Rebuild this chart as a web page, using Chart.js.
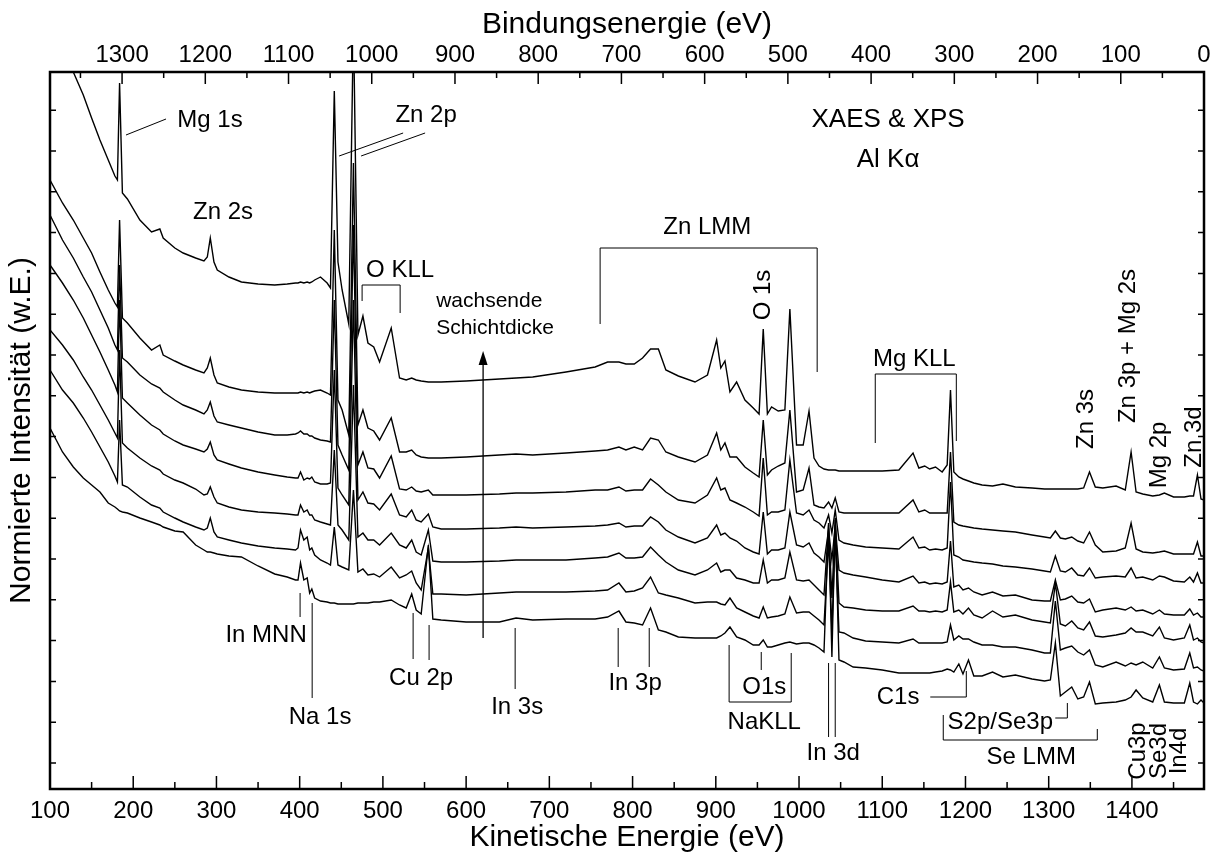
<!DOCTYPE html>
<html>
<head>
<meta charset="utf-8">
<script src="https://cdn.jsdelivr.net/npm/chart.js@4.4.0/dist/chart.umd.min.js"></script>
<style>
html, body { margin: 0; padding: 0; background: #fff; }
</style>
</head>
<body>
<canvas id="xps" width="1215" height="854"></canvas>
<script>
///////////////////////////// Daten /////////////////////////////////////////
// kinetische Energie (eV), gemeinsame Stützstellen fuer alle Spektren
const energy = [100,115,128,140,150,160,170,178,181,183.6,
  187,193,208,222,232,236,250,260,275,285,
  289,292.6,297,301,315,330,350,370,385,395,
  398,401,405,409,412,414.6,418,425,433,437,
  441.6,446,451,459,464.6,470,476,482,489,496,
  510,520,528,534.6,540,546,554.6,560,570,600,
  640,660,680,720,755,770,783.6,792,802,812,
  821.6,831,840,855,875,890,901,906,911,917,
  925,935,945,952,957,962,967,975,983,989,
  997,1005,1012,1018,1024,1030,1035.5,1039.5,1043.5,1048,
  1054,1065,1080,1100,1120,1137,1144,1151,1157,1164,
  1172,1178,1182,1186,1192,1197,1203.6,1210,1220,1232.5,
  1245,1260,1280,1295,1302,1308,1314,1320,1327.7,1335,
  1342,1349,1356,1365,1381,1392,1399,1405,1413,1425,
  1433,1439,1450,1463,1469.5,1474,1478.7,1483,1486.6]

// normierte Intensitaet (w.E.), oben = dickste Schicht
const trace1 = [78.5,75.5,72.8,70.5,68.2,66.0,64.0,62.4,62.0,71.7,
  60.7,60.1,58.0,56.8,57.1,56.2,55.2,54.7,54.2,53.9,
  54.3,56.2,53.8,53.0,52.3,51.8,51.6,51.5,51.6,51.7,
  51.7,51.8,51.7,51.8,51.7,51.8,52.0,52.3,51.7,51.2,
  70.9,53.8,51.0,47.6,78.0,46.5,48.4,45.7,45.3,43.8,
  47.2,42.2,42.0,42.2,42.0,41.9,41.8,41.8,41.8,41.9,
  42.1,42.2,42.3,42.8,43.3,43.8,43.8,43.6,43.6,44.2,
  45.1,45.1,43.0,42.4,41.8,42.5,46.0,43.2,43.9,40.8,
  41.8,40.0,39.2,38.6,47.1,38.6,39.3,38.9,39.0,49.1,
  35.5,35.5,38.9,34.2,33.4,33.1,33.0,33.0,33.0,32.9,
  32.9,32.9,32.9,32.9,33.0,34.7,33.2,33.4,33.1,33.3,
  32.8,33.5,41.0,32.8,32.3,32.1,31.9,31.7,31.5,31.4,
  31.6,31.3,31.2,31.1,31.1,31.1,31.1,31.1,31.1,31.1,
  31.2,32.8,31.3,31.2,31.4,31.0,34.8,30.8,30.6,30.4,
  30.5,30.7,30.3,30.3,30.4,30.4,32.5,30.1,30.0]
const trace2 = [62.0,59.7,58.0,56.2,54.7,52.8,51.0,49.7,49.3,58.0,
  48.2,47.7,46.2,45.0,45.5,44.5,43.9,43.5,43.0,42.7,
  43.2,44.2,42.5,41.7,41.3,41.0,40.8,40.7,40.7,40.7,
  40.7,40.8,40.7,40.8,40.7,40.8,40.9,41.0,40.7,40.5,
  57.0,40.0,39.0,36.5,63.7,37.5,39.0,37.2,36.9,36.0,
  38.2,34.8,34.8,35.0,34.5,34.3,34.2,34.2,34.2,34.3,
  34.5,34.6,34.5,34.7,34.9,35.0,35.3,35.0,35.3,35.0,
  36.2,36.0,34.8,34.3,33.8,34.5,36.7,35.0,35.7,34.3,
  34.3,33.3,32.7,32.3,38.0,32.5,33.0,33.4,33.7,39.0,
  30.8,31.0,33.2,29.5,29.3,29.2,29.8,29.2,30.2,28.8,
  28.7,28.7,28.7,28.7,28.7,30.0,28.8,29.0,28.7,28.7,
  28.7,28.7,34.8,27.8,27.5,27.4,27.3,27.2,27.1,27.0,
  26.9,26.8,26.5,26.3,26.2,26.9,26.2,26.1,26.3,25.9,
  25.7,26.8,25.5,24.8,24.9,25.2,27.7,25.1,24.8,24.7,
  24.8,24.9,24.6,24.6,24.6,24.6,25.8,24.4,24.4]
const trace3 = [58.5,56.0,54.2,52.3,50.8,49.0,47.2,45.5,45.0,53.5,
  44.2,43.8,42.5,41.6,41.2,40.8,40.0,39.5,39.0,38.6,
  39.0,39.8,38.4,37.8,37.5,37.2,36.8,36.5,36.5,36.6,
  36.7,36.9,36.6,36.6,36.4,36.4,36.2,36.0,35.9,35.8,
  50.0,35.5,34.5,33.0,57.5,33.5,34.8,33.2,33.1,32.2,
  34.4,31.1,31.0,31.3,30.9,30.8,31.0,30.5,30.5,30.5,
  30.6,30.7,30.7,30.8,31.0,31.0,31.3,30.9,31.0,31.0,
  32.1,31.5,30.8,30.0,29.7,30.5,32.2,31.0,31.2,30.0,
  29.7,29.3,28.8,28.4,34.2,28.5,28.8,28.8,29.0,34.0,
  28.7,28.5,29.0,28.0,27.7,27.2,28.5,26.7,29.0,26.0,
  25.7,25.5,25.3,25.2,25.1,26.3,25.2,25.3,25.0,25.1,
  25.0,25.2,31.8,24.5,24.3,24.0,23.9,23.8,23.7,23.6,
  23.4,23.3,23.1,22.9,22.8,24.4,22.9,22.8,23.2,22.5,
  22.4,23.2,22.2,22.3,22.4,22.3,23.2,22.2,22.3,22.0,
  22.4,22.3,21.9,21.8,22.3,21.8,22.7,21.7,21.7]
const trace4 = [53.5,51.7,50.0,48.2,46.5,44.8,43.0,41.5,40.8,50.0,
  40.2,39.7,38.5,37.5,37.0,36.6,35.9,35.5,35.1,34.8,
  35.1,35.8,34.5,34.0,33.6,33.2,32.8,32.5,32.3,32.2,
  32.2,32.8,32.0,32.2,32.1,32.3,31.8,31.6,31.6,31.7,
  43.0,31.2,30.5,29.5,50.0,30.0,30.8,29.7,29.6,29.0,
  30.6,28.5,28.3,29.0,28.0,27.8,28.6,27.3,27.1,27.1,
  27.2,27.3,27.2,27.3,27.4,27.5,27.7,27.3,27.4,27.4,
  28.3,27.8,27.0,26.3,25.7,26.2,27.5,26.5,26.7,26.2,
  25.9,25.2,24.8,24.6,28.8,24.6,25.0,25.0,25.2,28.8,
  25.5,25.3,25.7,24.7,24.3,23.8,27.0,24.0,27.5,23.0,
  22.7,22.5,22.3,22.0,21.8,22.4,21.7,21.8,21.6,21.7,
  21.6,21.8,25.9,21.3,21.5,21.0,21.2,20.8,20.5,20.8,
  20.4,20.5,20.0,19.9,19.9,22.0,20.0,20.1,20.4,19.8,
  19.7,20.1,18.8,19.0,19.2,19.0,19.3,18.9,19.0,18.6,
  19.0,18.6,18.5,18.5,19.1,18.5,18.7,18.3,18.3]
const trace5 = [47.0,45.5,44.0,42.3,41.0,39.5,38.0,36.7,36.2,45.0,
  35.7,35.2,34.2,33.4,33.0,32.6,32.0,31.7,31.1,30.5,
  30.6,31.3,30.3,29.7,29.3,29.0,28.8,28.7,28.6,28.5,
  28.5,29.5,28.8,29.0,28.5,28.5,28.0,27.8,27.6,27.5,
  35.0,27.5,27.0,26.0,41.5,26.3,26.7,26.0,26.0,25.5,
  26.7,25.5,25.2,26.0,24.8,24.5,27.0,23.9,23.8,23.8,
  23.9,24.0,24.0,24.0,24.2,24.3,24.7,24.2,24.2,24.3,
  25.3,24.5,23.8,23.0,22.5,23.0,23.7,22.8,23.0,23.0,
  22.2,22.0,21.7,21.7,24.0,21.7,22.0,22.0,22.2,24.8,
  22.0,21.9,22.0,21.5,21.0,20.5,27.5,20.2,28.0,19.7,
  19.3,19.2,19.0,18.9,18.9,19.4,18.9,18.9,18.8,18.9,
  18.8,19.0,21.8,18.8,19.0,18.6,19.2,18.5,18.2,18.9,
  18.3,18.5,18.0,17.8,17.7,21.7,17.6,17.4,17.9,17.2,
  17.0,17.8,16.4,16.3,16.5,16.7,17.2,16.8,16.8,16.4,
  17.3,16.2,16.0,16.2,17.5,16.0,16.2,15.8,15.7]
const trace6 = [43.0,41.0,39.7,38.2,36.8,35.3,33.8,32.4,31.8,38.0,
  31.5,31.3,30.3,29.5,29.2,28.8,28.2,27.8,27.3,27.0,
  27.2,28.2,26.8,26.3,26.0,25.7,25.4,25.2,25.1,25.0,
  25.2,27.0,26.0,26.3,25.0,25.2,24.5,24.0,23.7,23.5,
  27.3,23.5,23.3,23.0,31.0,22.8,23.1,22.5,22.6,22.3,
  23.3,22.2,22.5,22.9,21.7,21.0,25.2,20.6,20.6,20.5,
  20.7,20.8,20.8,20.8,20.9,21.0,21.7,20.8,20.9,21.2,
  22.3,20.7,20.5,20.2,19.7,19.8,19.8,19.6,19.5,20.2,
  19.2,18.8,18.4,18.2,19.3,18.2,18.3,18.4,18.6,20.3,
  18.7,18.8,18.8,18.4,18.0,17.5,26.0,17.0,26.5,16.8,
  16.7,16.2,15.9,15.8,15.7,16.1,15.7,15.7,15.7,15.7,
  15.7,15.8,17.5,16.0,16.4,16.1,16.1,15.8,15.5,15.5,
  15.3,15.3,15.0,14.7,14.7,19.9,15.0,15.2,15.4,14.8,
  14.5,15.0,13.5,13.3,13.8,13.4,13.7,13.5,13.8,13.2,
  14.3,13.2,13.0,13.1,14.7,13.2,13.3,13.0,12.9]
// Substrat (CIGS) ohne Schicht
const trace7 = [37.2,34.8,33.3,32.2,31.5,30.8,29.7,29.3,29.1,28.9,
  28.8,28.7,28.2,27.8,27.5,27.3,26.9,26.8,25.5,25.0,
  24.8,24.8,24.7,24.6,24.4,24.3,23.4,22.6,22.3,22.0,
  22.0,23.7,22.0,22.2,20.7,21.1,20.2,19.9,19.8,19.7,
  19.7,19.6,19.6,19.6,19.6,19.7,19.7,19.7,19.8,19.8,
  20.0,19.5,19.2,20.6,19.0,18.6,25.5,18.1,18.0,17.8,
  17.8,18.2,18.0,18.1,18.1,18.3,18.9,17.8,17.7,17.5,
  19.2,17.0,16.8,16.3,16.2,16.2,16.2,16.4,16.7,17.3,
  16.3,16.0,15.5,15.5,16.0,15.3,15.3,15.5,15.7,15.8,
  15.6,15.7,15.7,15.5,15.2,14.8,27.7,14.3,28.2,14.0,
  13.8,13.3,13.2,13.0,12.7,12.7,12.7,12.7,12.7,12.8,
  12.9,13.1,13.0,12.8,13.6,12.6,14.0,12.4,12.4,12.8,
  12.3,12.5,12.1,11.9,12.0,15.7,10.4,10.8,11.3,10.1,
  10.3,11.8,9.6,9.7,9.8,10.0,10.3,11.0,10.2,9.8,
  11.5,9.8,9.7,9.7,11.7,9.8,9.6,10.0,9.7]

const traces = [trace1, trace2, trace3, trace4, trace5, trace6, trace7]

// Al K-alpha: Bindungsenergie = 1486.6 - kinetische Energie
const photonEnergy = 1486.6
const keMin = 100

////////////////////////// Beschriftungen //////////////////////////////////
const FONT = '"Liberation Sans", Arial, Helvetica, sans-serif'

const labels = [
  {t: 'Mg 1s', x: 292.3, y: 68.0},
  {t: 'Zn 2s', x: 307.9, y: 58.8},
  {t: 'Zn 2p', x: 551.9, y: 68.5},
  {t: 'O KLL', x: 520.7, y: 53.0},
  {t: 'Zn LMM', x: 889.7, y: 57.3},
  {t: 'Mg KLL', x: 1138.5, y: 44.1},
  {t: 'In MNN', x: 359.6, y: 16.5},
  {t: 'Na 1s', x: 424.5, y: 8.3},
  {t: 'Cu 2p', x: 545.9, y: 12.2},
  {t: 'In 3s', x: 661.3, y: 9.3},
  {t: 'In 3p', x: 803, y: 11.7},
  {t: 'O1s', x: 958.2, y: 11.3},
  {t: 'NaKLL', x: 958.2, y: 7.8},
  {t: 'In 3d', x: 1041, y: 4.7},
  {t: 'C1s', x: 1119, y: 10.3},
  {t: 'S2p/Se3p', x: 1241.8, y: 7.8},
  {t: 'Se LMM', x: 1279, y: 4.3}
]
const leftLabels = [
  {t: 'wachsende', x: 564, y: 49.9},
  {t: 'Schichtdicke', x: 564, y: 47.2}
]
const upLabels = [
  {t: 'O 1s', x: 957, y: 50.5},
  {t: 'Zn 3s', x: 1345, y: 38.1},
  {t: 'Zn 3p + Mg 2s', x: 1395.7, y: 45.4},
  {t: 'Mg 2p', x: 1433, y: 34.5},
  {t: 'Zn 3d', x: 1475, y: 36.3},
  {t: 'Cu3p', x: 1407.7, y: 4.9},
  {t: 'Se3d', x: 1433, y: 4.9},
  {t: 'In4d', x: 1457, y: 4.9}
]
const leaders = [
  [[191.3, 66.5], [239.4, 68.1]],
  [[447.4, 64.4], [524.3, 66.7]],
  [[473.8, 64.4], [550.7, 66.7]],
  [[475, 49.9], [475, 51.5], [520.7, 51.5], [520.7, 48.7]],
  [[761, 47.6], [761, 55.2], [1021.8, 55.2], [1021.8, 42.8]],
  [[1091.6, 35.7], [1091.6, 42.6], [1189, 42.6], [1189, 35.9]],
  [[400.5, 20.7], [400.5, 18.3]],
  [[415, 19.7], [415, 10.2]],
  [[536.3, 18.7], [536.3, 14.1]],
  [[555.5, 17.5], [555.5, 14.0]],
  [[658.9, 17.2], [658.9, 11.1]],
  [[782.7, 17.2], [782.7, 13.3]],
  [[820, 17.2], [820, 13.3]],
  [[954.6, 14.8], [954.6, 13.0]],
  [[916, 15.5], [916, 9.8], [990.6, 9.8], [990.6, 14.7]],
  [[1035.5, 13.7], [1035.5, 6.3]],
  [[1043.5, 13.7], [1043.5, 6.3]],
  [[1157.7, 10.3], [1201, 10.3], [1201, 12.9]],
  [[1307.9, 8.2], [1322.4, 8.2], [1322.4, 9.7]],
  [[1173.3, 8.5], [1173.3, 6.0], [1358.4, 6.0], [1358.4, 7.1]]
]
const arrow = {x: 620.4, from: 16.2, to: 44.9}

// y-Striche ohne Zahlen
const yTickStart = 3.7
const yTickStep = 4.08
const yTickCount = 17

////////////////////// Rahmen, Striche, Texte //////////////////////////////
const marks = {
  id: 'marks',
  afterDraw(chart) {
    const {ctx, chartArea: a, scales} = chart
    const xs = scales.x, xt = scales.xb, ys = scales.y
    const X = v => xs.getPixelForValue(v)
    const Y = v => ys.getPixelForValue(v)
    ctx.save()
    ctx.strokeStyle = '#000'
    ctx.fillStyle = '#000'

    ctx.lineWidth = 1.5
    ctx.beginPath()
    for (let v = 100; v <= 1450; v += 50) {
      const len = v % 100 === 0 ? 13 : 7
      ctx.moveTo(X(v), a.bottom); ctx.lineTo(X(v), a.bottom - len)
    }
    for (let v = 0; v <= 1350; v += 50) {
      const len = v % 100 === 0 ? 12 : 6
      const p = xt.getPixelForValue(v)
      ctx.moveTo(p, a.top); ctx.lineTo(p, a.top + len)
    }
    for (let k = 0; k < yTickCount; k++) {
      const p = Y(yTickStart + k * yTickStep)
      ctx.moveTo(a.left, p); ctx.lineTo(a.left + 6, p)
      ctx.moveTo(a.right, p); ctx.lineTo(a.right - 6, p)
    }
    ctx.stroke()

    ctx.lineWidth = 2.5
    ctx.strokeRect(a.left, a.top, a.right - a.left, a.bottom - a.top)

    // Hilfslinien
    ctx.lineWidth = 1
    leaders.forEach(pts => {
      ctx.beginPath()
      pts.forEach((p, i) => i ? ctx.lineTo(X(p[0]), Y(p[1])) : ctx.moveTo(X(p[0]), Y(p[1])))
      ctx.stroke()
    })
    // Pfeil "wachsende Schichtdicke"
    const ax = X(arrow.x), ay1 = Y(arrow.from), ay2 = Y(arrow.to)
    ctx.lineWidth = 1.3
    ctx.beginPath(); ctx.moveTo(ax, ay1); ctx.lineTo(ax, ay2 + 10); ctx.stroke()
    ctx.beginPath(); ctx.moveTo(ax, ay2); ctx.lineTo(ax - 4.5, ay2 + 14); ctx.lineTo(ax + 4.5, ay2 + 14); ctx.closePath(); ctx.fill()

    ctx.textBaseline = 'middle'
    ctx.font = '24px ' + FONT
    ctx.textAlign = 'center'
    labels.forEach(l => ctx.fillText(l.t, X(l.x), Y(l.y)))
    upLabels.forEach(l => {
      ctx.save()
      ctx.translate(X(l.x), Y(l.y))
      ctx.rotate(-Math.PI / 2)
      ctx.fillText(l.t, 0, 0)
      ctx.restore()
    })
    ctx.font = '21px ' + FONT
    ctx.textAlign = 'left'
    leftLabels.forEach(l => ctx.fillText(l.t, X(l.x), Y(l.y)))

    ctx.font = '26px ' + FONT
    ctx.textAlign = 'center'
    ctx.fillText('XAES & XPS', X(1107), Y(68.0))
    ctx.fillText('Al K\u03b1', X(1107), Y(64.0))
    ctx.restore()
  }
}

/////////////////////////////// Grafik /////////////////////////////////////
const axisFont = {family: FONT, size: 24}
const titleFont = {family: FONT, size: 30}

new Chart(document.getElementById('xps'), {
  type: 'line',
  data: {
    datasets: traces.map(t => ({
      data: energy.map((e, i) => ({x: e, y: t[i]})),
      borderColor: '#000',
      borderWidth: 1.4,
      pointRadius: 0,
      fill: false,
      tension: 0
    }))
  },
  options: {
    responsive: false,
    animation: false,
    events: [],
    plugins: {legend: {display: false}, tooltip: {enabled: false}},
    scales: {
      x: {
        type: 'linear', position: 'bottom', min: keMin, max: photonEnergy,
        afterFit: s => { s.height = 65 },
        grid: {display: false, drawTicks: false}, border: {display: false},
        ticks: {stepSize: 100, includeBounds: false, padding: 7.6, color: '#000', font: axisFont,
          maxRotation: 0, minRotation: 0, autoSkip: false, callback: v => String(v)},
        title: {display: true, text: 'Kinetische Energie (eV)', color: '#000', font: titleFont, padding: {top: 0, bottom: -2}}
      },
      xb: {
        type: 'linear', position: 'top', min: 0, max: photonEnergy - keMin, reverse: true,
        afterFit: s => { s.height = 72 },
        grid: {display: false, drawTicks: false}, border: {display: false},
        ticks: {stepSize: 100, includeBounds: false, padding: 2.6, color: '#000', font: axisFont,
          maxRotation: 0, minRotation: 0, autoSkip: false, callback: v => String(v)},
        title: {display: true, text: 'Bindungsenergie (eV)', color: '#000', font: titleFont, padding: {top: 7, bottom: 0}}
      },
      y: {
        type: 'linear', position: 'left', min: 1.1, max: 72.8,
        afterFit: s => { s.width = 50 },
        grid: {display: false, drawTicks: false}, border: {display: false},
        ticks: {display: false},
        title: {display: true, text: 'Normierte Intensität (w.E.)', color: '#000', font: titleFont, padding: {top: 4, bottom: 0}}
      },
      y2: {
        type: 'linear', position: 'right', min: 1.1, max: 72.8,
        afterFit: s => { s.width = 11 },
        grid: {display: false, drawTicks: false}, border: {display: false},
        ticks: {display: false}
      }
    }
  },
  plugins: [marks]
})
</script>
</body>
</html>
